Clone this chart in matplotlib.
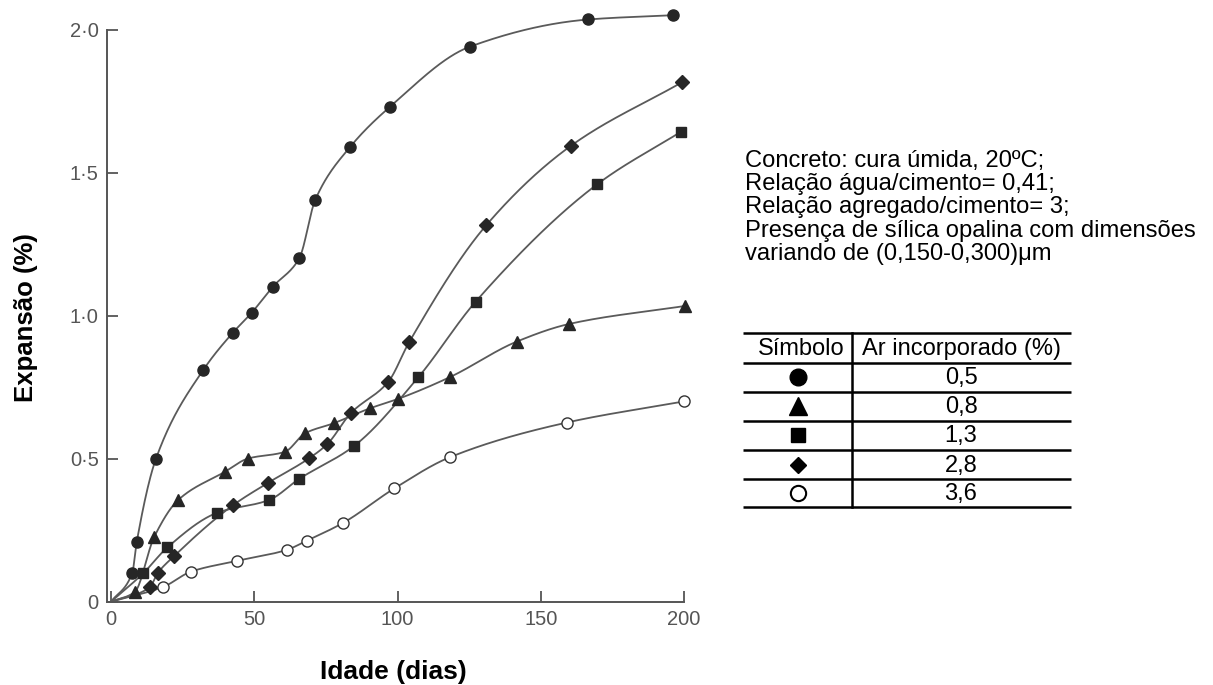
import numpy as np
import matplotlib
matplotlib.use("Agg")
import matplotlib.pyplot as plt

plt.rcParams['font.family'] = ['Liberation Sans', 'DejaVu Sans']

# ---- data ----
age_05 = [0, 7.4, 9.0, 15.7, 32.2, 42.5, 49.1, 56.4, 65.7, 71.3, 83.5, 97.4, 125.3, 166.6, 196.3]
exp_05 = [0, 0.10, 0.21, 0.50, 0.81, 0.94, 1.01, 1.10, 1.20, 1.405, 1.59, 1.73, 1.94, 2.035, 2.05]

age_08 = [0, 8.2, 15.1, 23.5, 39.9, 47.7, 60.7, 67.8, 77.8, 90.4, 100.0, 118.3, 141.6, 160.0, 200.5]
exp_08 = [0, 0.033, 0.227, 0.356, 0.455, 0.50, 0.524, 0.589, 0.624, 0.676, 0.708, 0.785, 0.909, 0.971, 1.034]

age_13 = [0, 11.3, 19.7, 37.1, 55.3, 65.5, 84.8, 107.3, 127.3, 169.7, 199.0]
exp_13 = [0, 0.10, 0.19, 0.311, 0.356, 0.428, 0.544, 0.785, 1.049, 1.459, 1.643]

age_28 = [0, 13.5, 16.3, 22.1, 42.7, 54.9, 69.1, 75.5, 83.7, 96.8, 104.0, 130.9, 160.6, 199.2]
exp_28 = [0, 0.05, 0.10, 0.16, 0.338, 0.416, 0.501, 0.551, 0.659, 0.769, 0.906, 1.315, 1.594, 1.815]

age_36 = [0, 18.3, 27.9, 44.1, 61.3, 68.3, 81.1, 98.9, 118.3, 159.0, 200.0]
exp_36 = [0, 0.052, 0.105, 0.143, 0.181, 0.213, 0.276, 0.396, 0.505, 0.626, 0.70]

air_content = ["0,5", "0,8", "1,3", "2,8", "3,6"]

x_ticks = [0, 50, 100, 150, 200]
x_ticklabels = ["0", "50", "100", "150", "200"]
y_ticks = [0, 0.5, 1.0, 1.5, 2.0]
y_ticklabels = ["0", "0·5", "1·0", "1·5", "2·0"]

note_lines = [
    "Concreto: cura úmida, 20ºC;",
    "Relação água/cimento= 0,41;",
    "Relação agregado/cimento= 3;",
    "Presença de sílica opalina com dimensões",
    "variando de (0,150-0,300)μm",
]


def pchip(x, y, xs):
    x = np.asarray(x, float)
    y = np.asarray(y, float)
    h = np.diff(x)
    d = np.diff(y) / h
    n = len(x)
    m = np.zeros(n)
    for k in range(1, n - 1):
        if d[k - 1] * d[k] <= 0:
            m[k] = 0.0
        else:
            w1 = 2 * h[k] + h[k - 1]
            w2 = h[k] + 2 * h[k - 1]
            m[k] = (w1 + w2) / (w1 / d[k - 1] + w2 / d[k])
    m[0] = d[0]
    m[-1] = d[-1]
    idx = np.clip(np.searchsorted(x, xs) - 1, 0, n - 2)
    t = (xs - x[idx]) / h[idx]
    h00 = 2 * t**3 - 3 * t**2 + 1
    h10 = t**3 - 2 * t**2 + t
    h01 = -2 * t**3 + 3 * t**2
    h11 = t**3 - t**2
    return (h00 * y[idx] + h10 * h[idx] * m[idx] + h01 * y[idx + 1]
            + h11 * h[idx] * m[idx + 1])


W, H = 1213, 685
fig = plt.figure(figsize=(W / 100, H / 100), dpi=100)
left_px, right_px, bot_px, top_px = 107, 684, 601.7, 29.5
ax = fig.add_axes([left_px / W, 1 - bot_px / H, (right_px - left_px) / W,
                   (bot_px - top_px) / H])
ax.set_xlim(-1.4, 200)
ax.set_ylim(0, 2.0)

series = [
    (age_05, exp_05, dict(marker='o', ms=8, mfc='#262626', mec='#262626')),
    (age_08, exp_08, dict(marker='^', ms=9, mfc='#262626', mec='#262626')),
    (age_13, exp_13, dict(marker='s', ms=7.5, mfc='#262626', mec='#262626')),
    (age_28, exp_28, dict(marker='D', ms=7, mfc='#262626', mec='#262626')),
    (age_36, exp_36, dict(marker='o', ms=8, mfc='white', mec='#333333', mew=1.0)),
]

line_col = '#5a5a5a'
for xs_, ys_, mk in series:
    xx = np.linspace(xs_[0], xs_[-1], 600)
    ax.plot(xx, pchip(xs_, ys_, xx), color=line_col, lw=1.3, zorder=2,
            clip_on=False)
    ax.plot(xs_[1:], ys_[1:], ls='none', zorder=3, clip_on=False, **mk)

for s in ['top', 'right']:
    ax.spines[s].set_visible(False)
for s in ['left', 'bottom']:
    ax.spines[s].set_color('#555555')
    ax.spines[s].set_linewidth(1.4)

ax.set_xticks(x_ticks)
ax.set_xticklabels(x_ticklabels)
ax.set_yticks(y_ticks)
ax.set_yticklabels(y_ticklabels)
ax.tick_params(axis='both', direction='in', length=8, width=1.3,
               color='#555555', labelcolor='#555555', labelsize=14.5)
ax.tick_params(axis='x', pad=6)
ax.tick_params(axis='y', pad=6)

# ---- overlay in pixel coordinates for labels, notes and table ----
ov = fig.add_axes([0, 0, 1, 1])
ov.set_xlim(0, W)
ov.set_ylim(H, 0)
ov.axis('off')
ov.patch.set_alpha(0)

ov.text(26, 318, "Expansão (%)", rotation=90, ha='center', va='center',
        fontsize=18.5, fontweight='bold', color='black')
ov.text(393, 679, "Idade (dias)", ha='center', va='baseline',
        fontsize=19, fontweight='bold', color='black')

base0 = 166.5
for i, line in enumerate(note_lines):
    ov.text(745, base0 + i * 23.4, line, ha='left', va='baseline',
            fontsize=17.1, color='black')

# table
tx0, tx1, tsep = 743, 1071, 851.5
row_lines = [333.3, 362.7, 391.7, 420.7, 450.0, 479.0, 507.3]
for yy in row_lines:
    ov.plot([tx0, tx1], [yy, yy], color='black', lw=1.8, solid_capstyle='butt')
ov.plot([tsep, tsep], [row_lines[0], row_lines[-1]], color='black', lw=1.8)

col1_c = 798
col2_c = 961
hy = (row_lines[0] + row_lines[1]) / 2
ov.text(801, hy + 1, "Símbolo", ha='center', va='center', fontsize=17)
ov.text(col2_c, hy + 1, "Ar incorporado (%)", ha='center', va='center', fontsize=17)

tbl_markers = [
    dict(marker='o', ms=12, mfc='black', mec='black'),
    dict(marker='^', ms=12.5, mfc='black', mec='black'),
    dict(marker='s', ms=10, mfc='black', mec='black'),
    dict(marker='D', ms=8.5, mfc='black', mec='black'),
    dict(marker='o', ms=11, mfc='white', mec='black', mew=1.5),
]
for i, (lab, mk) in enumerate(zip(air_content, tbl_markers)):
    cy = (row_lines[i + 1] + row_lines[i + 2]) / 2
    ov.plot([col1_c], [cy], ls='none', **mk)
    ov.text(col2_c, cy + 1, lab, ha='center', va='center', fontsize=17)

fig.savefig("out.png", dpi=100, facecolor='white')
